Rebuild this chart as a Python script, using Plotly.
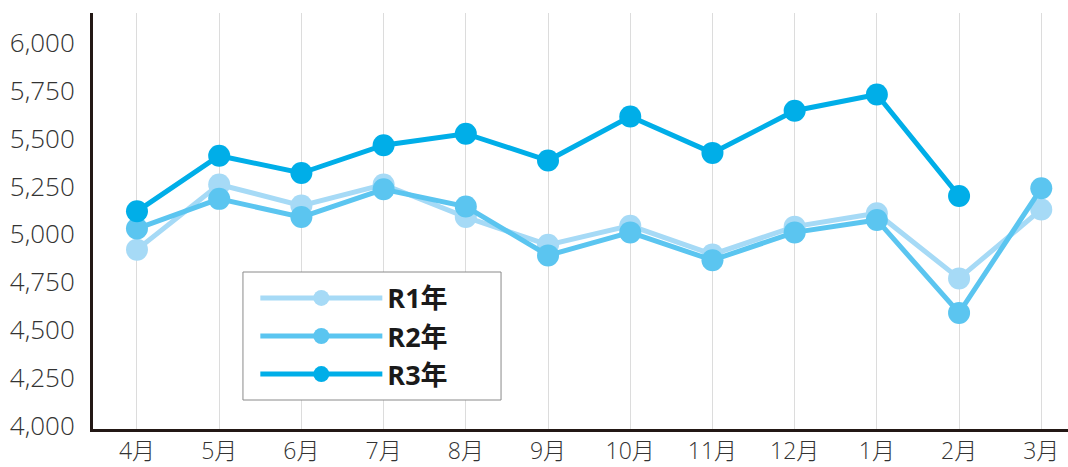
import plotly.graph_objects as go

months = ["4月", "5月", "6月", "7月", "8月", "9月", "10月", "11月", "12月", "1月", "2月", "3月"]
r1 = [4920, 5260, 5150, 5260, 5090, 4945, 5045, 4895, 5040, 5110, 4770, 5130]
r2 = [5030, 5185, 5090, 5235, 5145, 4890, 5010, 4865, 5010, 5075, 4590, 5240]
r3 = [5120, 5410, 5320, 5465, 5525, 5385, 5615, 5425, 5645, 5730, 5200, None]
series_names = ["R1年", "R2年", "R3年"]
y_ticks = [4000, 4250, 4500, 4750, 5000, 5250, 5500, 5750, 6000]

colors = ["#a6daf6", "#5bc5f0", "#00aee8"]
FONT = "Open Sans, Noto Sans CJK JP, sans-serif"

fig = go.Figure()
for i, (name, vals) in enumerate(zip(series_names, [r1, r2, r3])):
    fig.add_trace(go.Scatter(
        x=list(range(len(months))), y=vals, name=name, mode="lines+markers",
        line=dict(color=colors[i], width=5),
        marker=dict(color=colors[i], size=22),
        legendgroup=name, connectgaps=False,
    ))

# legend frame (decorative box behind the legend)
fig.add_shape(
    type="rect", xref="paper", yref="paper",
    x0=0.1538, x1=0.4185, y0=0.0697, y1=0.3774,
    line=dict(color="#8a8a8a", width=1), fillcolor="white", layer="above",
)

fig.update_layout(
    width=1068, height=467,
    margin=dict(l=93, r=0, t=13, b=38),
    paper_bgcolor="white", plot_bgcolor="white",
    font=dict(family=FONT, size=23, color="#333333"),
    showlegend=True,
    legend=dict(
        x=0.1665, y=0.373, xanchor="left", yanchor="top",
        borderwidth=0, bgcolor="rgba(0,0,0,0)",
        font=dict(family=FONT, size=27, color="#1a1a1a", weight="bold"),
        itemwidth=122, itemsizing="trace", tracegroupgap=0,
    ),
    xaxis=dict(
        range=[-0.535, 11.325], tickmode="array",
        tickvals=list(range(len(months))), ticktext=months,
        showgrid=True, gridcolor="#dcdcdc", gridwidth=1,
        showline=True, linecolor="#231815", linewidth=3,
        ticks="", zeroline=False, ticklabelstandoff=-1, automargin=False,
        tickfont=dict(family=FONT, size=23, color="#333333", weight=300),
    ),
    yaxis=dict(
        range=[3984, 6155], tickmode="array", tickvals=y_ticks,
        tickformat=",", showgrid=False,
        showline=True, linecolor="#231815", linewidth=3,
        ticks="", zeroline=False, ticklabelstandoff=10, automargin=False,
        tickfont=dict(family=FONT, size=26, color="#333333", weight=300),
    ),
)

fig.write_html("out.html", post_script="document.body.style.margin='0';",
               config={"displayModeBar": False})
